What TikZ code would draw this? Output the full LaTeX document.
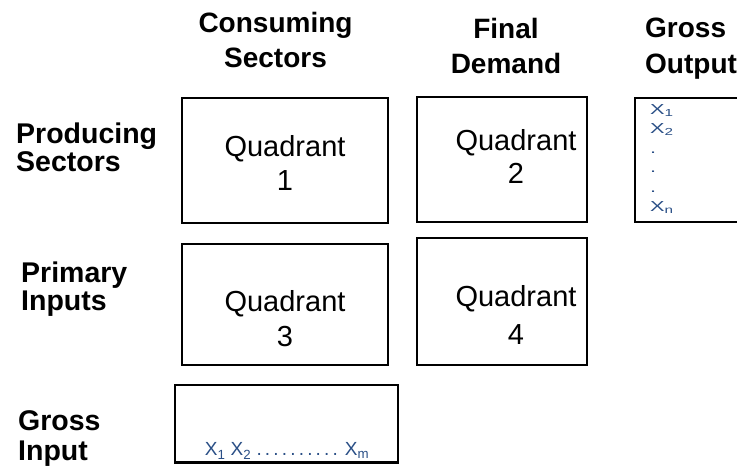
\documentclass[tikz,border=0pt]{standalone}
\usepackage{fontspec}
\setmainfont{Liberation Sans}
\newfontfamily\widefont[FakeStretch=1.5]{Liberation Sans}
\usepackage{tikz}
\definecolor{xblue}{HTML}{2A4F86}

\begin{document}
\begin{tikzpicture}[x=1pt, y=-1pt, inner sep=0pt,
  head/.style={font=\fontsize{28}{35.5}\selectfont\bfseries, align=center, anchor=north},
  side/.style={font=\fontsize{28.5}{#1}\selectfont\bfseries, align=left, anchor=north west},
  quad/.style args={#1x#2}{draw, line width=1.2pt, minimum width=#1pt, minimum height=#2pt},
  quadtext/.style={font=\fontsize{29}{#1}\selectfont, align=center, anchor=north},
  xlist/.style={text=xblue, align=left}]
  \useasboundingbox (0,0) rectangle (737,470);
  \clip (0,0) rectangle (737,470);
  % column and row headings
  \node[head] (cs) at (275.5,12) {Consuming\\Sectors};
  \node[head] (fd) at (506,18) {Final\\Demand};
  \node[head, align=left, anchor=north west] (go) at (645,18) {Gross\\Output};
  \node[side=27.5] (ps) at (16,123) {Producing\\Sectors};
  \node[side=28] (pi) at (21,262) {Primary\\Inputs};
  \node[side=30] (gi) at (18,410) {Gross\\Input};
  % quadrants
  \node[quad=206x125] (q1) at (285,160.5) {};
  \node[quad=170x125] (q2) at (502,159.5) {};
  \node[quad=206x121] (q3) at (285,304.5) {};
  \node[quad=170x127] (q4) at (502,301.5) {};
  \foreach \n/\x/\y/\s in {1/285/135/34, 2/516/129/33, 3/285/290/35, 4/516/285/38}{
    \node[quadtext=\s] (t\n) at (\x,\y) {Quadrant\\\n};}
  % gross output column
  \node[draw, line width=1.2pt, minimum width=140pt, minimum height=124pt, anchor=west] (gob) at (635,160) {};
  \draw[line width=2.6pt] (gob.north west) -- (gob.south west);
  \node[xlist, font=\widefont\fontsize{14.5}{19.5}\selectfont, anchor=north west] (xo) at (650,104)
    {X\textsubscript{1}\\X\textsubscript{2}\\.\\.\\.\\X\textsubscript{n}};
  % gross input row
  \node[quad=223x77] (gib) at (286.5,423.5) {};
  \draw[line width=2.6pt] (gib.south west) -- (gib.south east);
  \node[xlist, font=\fontsize{19}{20}\selectfont, anchor=base] (xi) at (287,456)
    {X\textsubscript{1} X\textsubscript{2} .\,.\,.\,.\,.\,.\,.\,.\,.\,. X\textsubscript{m}};
\end{tikzpicture}
\end{document}
